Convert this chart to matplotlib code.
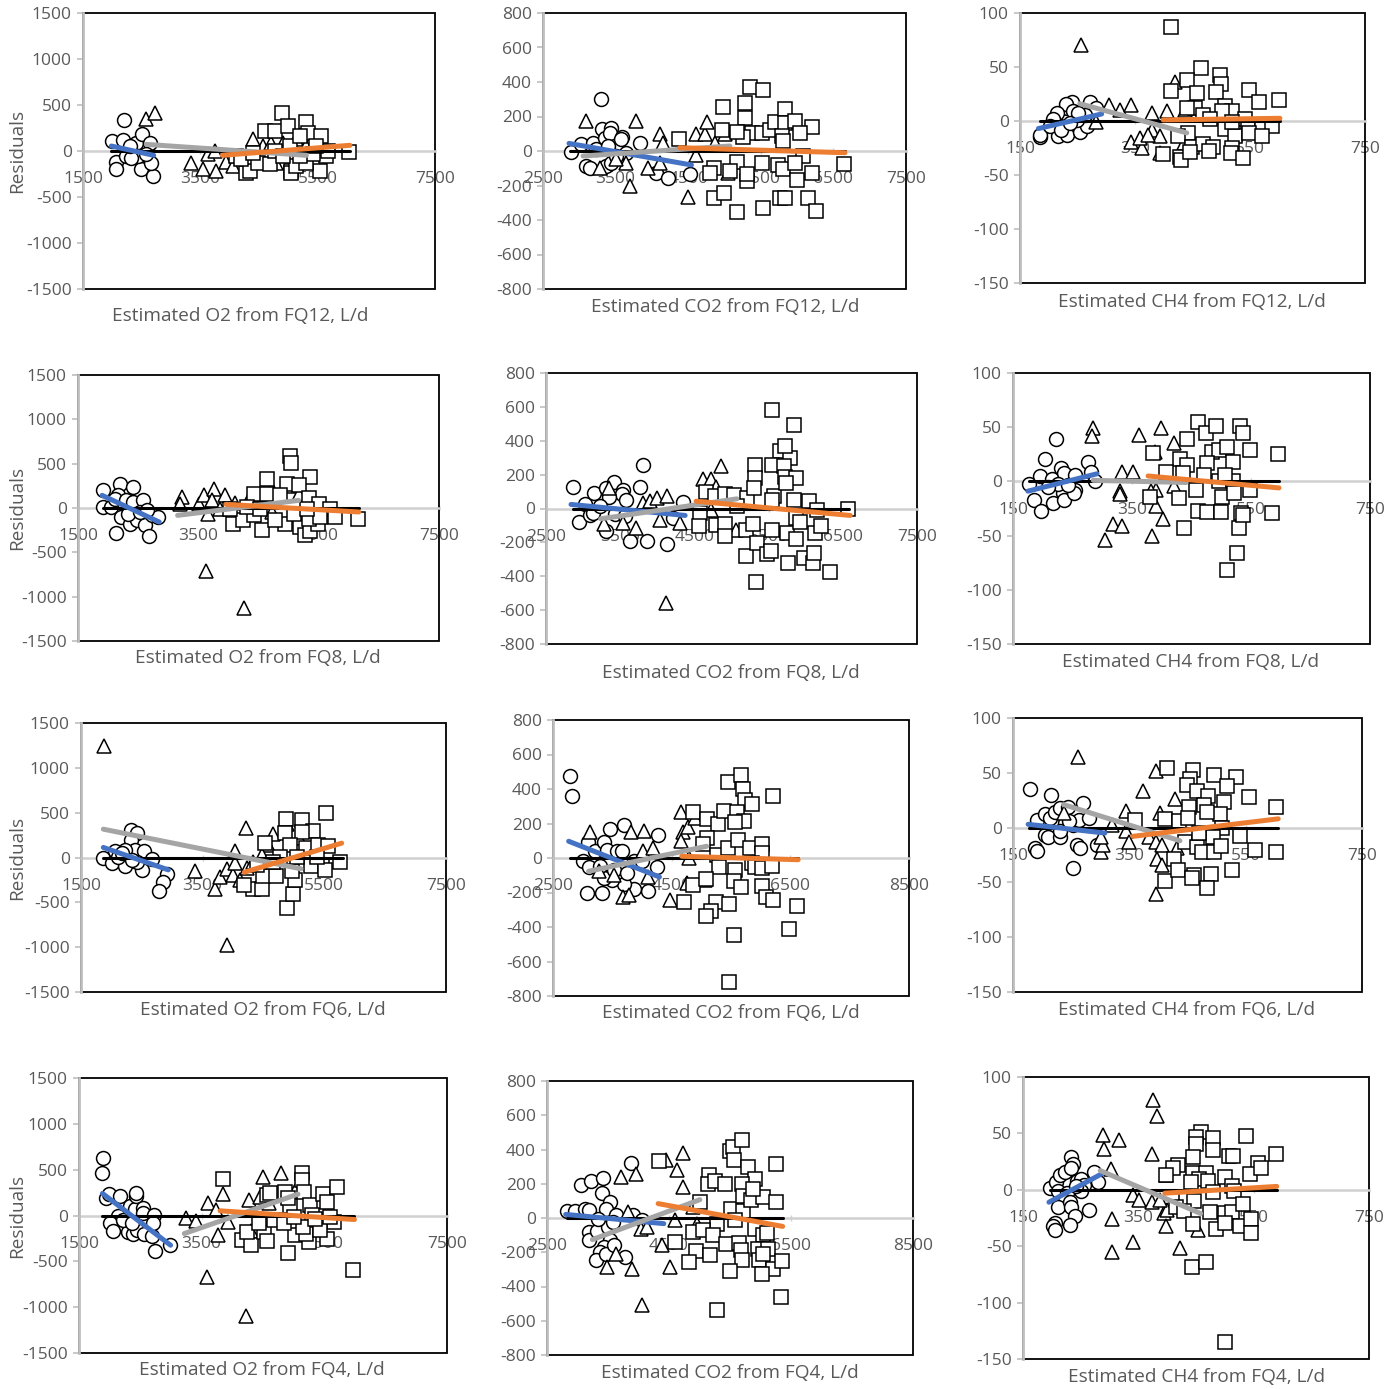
import matplotlib
matplotlib.use("Agg")
import matplotlib.pyplot as plt
from matplotlib.patches import Rectangle

plt.rcParams['font.family'] = ['Open Sans', 'DejaVu Sans']

# ---------------- DATA ----------------
# Each panel: circles, triangles, squares as (x, y) pairs, and trend lines (x0, x1, y0, y1)
# trend line order: circles(blue), triangles(gray), squares(orange), all(black)

o2_fq12_circles = [(2000,109),(2194,337),(2182,120),(2057,-120),(2057,-192),(2228,-54),(2410,83),(2512,181),
                   (2637,91),(2495,-192),(2438,-54),(2694,-272),(2666,-127),(2580,-36),(2325,-72),(2296,54)]
o2_fq12_triangles = [(2580,344),(2723,417),(3348,-127),(3547,-199),(3763,-217),(3632,-36),(3945,-120),(4059,-163),
                     (4172,-54),(4400,127),(4570,54),(4712,91),(4798,-127),(4911,91),(5138,127),(5308,54),(3746,0)]
o2_fq12_squares = [(4884,417),(4599,217),(4769,217),(4997,272),(5308,315),(5337,199),(5564,163),(4286,-235),
                   (4343,-217),(4485,-127),(4684,-145),(5053,-217),(5053,-235),(5536,-217),(5650,-54),(5678,0),
                   (6038,-11),(5138,-163),(5308,-127),(5422,-36),(5024,54),(5195,163),(4116,-54),(4201,-91),
                   (4400,-18),(4770,0),(5195,-54),(5479,54),(4912,-54)]
o2_fq12_lines = [(1983,2705,54,-47),(2580,5308,72,-47),(3877,6050,-47,62),(1983,6050,0,0)]

co2_fq12_circles = [(2881,-6),(3029,39),(3189,48),(3304,303),(3318,126),(3350,77),(3442,135),(3419,106),(3594,83),
                    (3580,68),(3842,48),(3088,-87),(3153,-97),(3373,-87),(3442,-68),(4063,-126),(4224,-155),
                    (4522,-135),(3235,10),(3396,29),(3649,-10),(3511,-29)]
co2_fq12_triangles = [(3088,174),(3778,174),(4109,97),(4155,48),(3695,-203),(3948,-97),(4109,-68),(4499,-265),
                      (4614,-25),(4614,97),(4729,97),(4761,168),(4867,48),(5005,100),(5051,-126),(3649,-68),
                      (3281,-97),(3511,-48)]
co2_fq12_squares = [(4375,68),(4982,257),(5350,373),(5524,354),(5281,276),(5281,193),(5373,106),(5258,83),
                    (5166,110),(4972,120),(5511,102),(5626,122),(5695,168),(5833,241),(5833,164),(5971,174),
                    (6200,139),(6039,106),(5787,87),(5810,58),(4853,-97),(4807,-126),(4853,-274),(4991,-245),
                    (5175,-354),(5166,-64),(5304,-174),(5511,-71),(5741,-83),(5810,-106),(5534,-328),(5764,-270),
                    (5833,-270),(5993,-168),(6154,-274),(6259,-348),(6200,-126),(6085,-29),(5971,-68),(6646,-77),
                    (5074,-116),(5304,-135)]
co2_fq12_lines = [(2858,4545,44,-81),(3052,5074,-29,29),(4384,6659,19,-10),(2868,6659,0,0)]

ch4_fq12_circles = [(185,-15),(185,-13),(216,-14),(232,-13),(228,7),(231,12),(240,18),(230,16),(214,7),(208,2),
                    (202,-5),(222,-8),(254,-10),(266,-5),(271,18),(283,12),(263,6),(249,1),(243,9),(251,7),(237,-2)]
ch4_fq12_triangles = [(256,70),(304,15),(324,10),(343,15),(283,-1),(343,-19),(362,-25),(359,-16),(379,7),(380,-8),
                      (393,-14),(406,9),(419,36),(437,10),(436,-20),(393,-30),(373,-13)]
ch4_fq12_squares = [(412,87),(465,49),(498,43),(499,34),(440,38),(457,26),(490,27),(412,28),(549,29),(566,18),
                    (601,19),(506,14),(518,9),(501,9),(454,12),(440,12),(469,6),(481,2),(542,2),(547,-5),(570,-5),
                    (588,-5),(506,-7),(524,-14),(549,-11),(570,-14),(443,-11),(425,-14),(399,-31),(428,-33),
                    (430,-36),(449,-24),(468,-21),(485,-24),(446,-29),(478,-28),(518,-25),(517,-30),(537,-34),
                    (518,-1)]
ch4_fq12_lines = [(182,292,-7,6.5),(254,440,16,-11),(399,602,1,2.5),(184,602,0,0)]

o2_fq8_circles = [(1917,207),(1917,11),(2056,11),(2194,267),(2406,237),(2167,143),(2111,105),(2306,86),(2417,68),
                  (2583,94),(2222,-101),(2361,-177),(2483,-132),(2611,-188),(2678,-320),(2139,-278),(2722,-83),
                  (2833,-101),(2333,-64),(2528,-45),(2639,-26)]
o2_fq8_triangles = [(3222,124),(3194,41),(3511,49),(3594,143),(3761,218),(3733,86),(3944,143),(3667,-64),
                    (3628,-714),(4261,-1124),(3861,-8),(4111,56),(4361,124),(4500,143),(4722,218),(5028,244),
                    (5167,162),(4722,-45),(4639,86),(4417,11)]
o2_fq8_squares = [(5028,586),(5044,511),(5361,350),(4639,323),(4972,274),(5167,256),(4417,162),(4639,162),
                  (4861,143),(5333,117),(5500,49),(5694,-8),(5778,-101),(6150,-128),(4083,-177),(4250,-139),
                  (4556,-244),(4944,-177),(5194,-214),(5267,-308),(5361,-259),(5489,-177),(4417,-83),(4778,-139),
                  (5083,-64),(5333,-120),(5528,-101),(4028,-8),(4306,11),(4528,-8),(5306,-8)]
o2_fq8_lines = [(1900,2850,143,-158),(3156,5167,-83,86),(3961,6167,41,-45),(1917,6167,0,0)]

co2_fq8_circles = [(2869,126),(3026,24),(3147,89),(3305,122),(3417,155),(3543,112),(3520,83),(3350,69),(3579,53),
                   (3768,126),(3804,258),(2950,-79),(3093,-39),(3138,-26),(3305,-134),(3633,-193),(3858,-193),
                   (4128,-209),(4217,-55),(4352,37),(3431,-35),(3566,-45),(3228,14)]
co2_fq8_triangles = [(3350,122),(3287,-94),(3543,-85),(3714,-114),(3813,33),(3903,47),(4002,63),(4128,73),
                     (4038,-65),(4307,-85),(4114,-557),(4622,177),(4721,177),(4789,128),(4857,250),(4721,-6),
                     (5063,-128)]
co2_fq8_squares = [(4658,98),(4779,73),(4914,83),(5036,77),(5207,63),(5319,254),(5319,181),(5297,122),(5544,584),
                   (5836,492),(5647,339),(5782,299),(5544,254),(5701,250),(5724,187),(5872,181),(5570,73),
                   (5552,49),(5836,53),(6039,43),(6152,-6),(6564,0),(4577,-26),(4564,-104),(4793,-100),(4914,-94),
                   (4914,-163),(5189,-128),(5189,-281),(5292,-94),(5346,-203),(5333,-435),(5472,-266),(5535,-252),
                   (5548,-124),(5750,-144),(5876,-183),(5876,-55),(5917,-81),(5764,-321),(5975,-295),(6099,-321),
                   (6108,-262),(6130,-144),(6206,-104),(6326,-372),(5072,14),(5737,152),(5724,368)]
co2_fq8_lines = [(2837,4375,24,-41),(3237,5072,-61,57),(4523,6600,43,-41),(2860,6578,0,0)]

ch4_fq8_circles = [(177,-2),(195,5),(203,21),(222,39),(186,-17),(197,-27),(217,-20),(216,2),(231,12),(235,8),
                   (234,-11),(235,-17),(254,6),(254,-8),(252,-11),(276,18),(281,9),(288,0),(226,-2),(242,-3),(209,-5)]
ch4_fq8_triangles = [(285,49),(283,42),(304,-54),(318,-39),(334,-41),(330,-9),(330,-12),(333,9),(351,9),(361,43),
                     (398,49),(420,35),(384,-50),(388,27),(391,-8),(402,-35),(390,-23),(382,-9),(420,-4)]
ch4_fq8_squares = [(461,55),(475,45),(492,51),(531,51),(537,45),(548,29),(485,27),(497,29),(509,32),(442,39),
                   (430,21),(442,15),(476,17),(519,18),(385,26),(407,9),(436,8),(471,6),(497,0),(520,0),(506,6),
                   (596,25),(381,-14),(429,-15),(457,-8),(502,-14),(522,-11),(548,-8),(461,-27),(476,-28),
                   (500,-28),(534,-29),(530,-43),(526,-66),(510,-82),(437,-43),(585,-29),(537,-31)]
ch4_fq8_lines = [(175,291,-9,7),(285,441,1,-1),(377,597,5,-6),(177,597,0,0)]

o2_fq6_circles = [(1867,0),(2004,-63),(2223,-100),(2316,309),(2415,271),(2316,197),(2387,85),(2223,85),(2059,67),
                  (2536,74),(2662,-15),(2497,-138),(2415,-52),(2333,-26),(2908,-186),(2842,-268),(2788,-372),
                  (2114,11),(2168,48)]
o2_fq6_triangles = [(1884,1238),(3374,-149),(3703,-349),(3894,-974),(3785,-212),(3894,-126),(4004,-193),(4031,67),
                    (4031,-63),(4113,-249),(4212,327),(4223,-112),(4579,141),(4661,260),(4891,372),(5083,216),
                    (4469,30),(4332,-45)]
o2_fq6_squares = [(4332,-349),(4469,-349),(4179,-305),(4497,-201),(4705,-201),(4891,-558),(4979,-409),(5017,-249),
                  (4962,-149),(4524,160),(4864,431),(5127,413),(5319,297),(5127,282),(4853,271),(4935,141),
                  (5198,104),(5401,141),(5566,123),(5522,494),(5757,-45),(5467,-82),(5286,-100),(5506,-138),
                  (4770,11),(5045,11),(4661,-45),(4387,-82),(5374,11)]
o2_fq6_lines = [(1867,2935,112,-138),(1867,5116,316,-126),(4185,5785,-164,160),(1867,5812,0,0)]

co2_fq6_circles = [(2780,477),(2820,361),(3089,93),(3212,39),(3363,93),(3408,48),(3453,168),(3577,39),(3661,39),
                   (3700,193),(3857,-19),(3997,-15),(4277,131),(4260,-52),(4109,-189),(3857,-180),(3700,-149),
                   (3492,-126),(3352,-116),(3324,-203),(3072,-203),(3005,-19),(3100,-52),(3296,-48),(3520,-68),
                   (3745,-87)]
co2_fq6_triangles = [(3117,151),(3812,151),(4042,158),(4025,43),(4177,58),(4109,-112),(3672,-228),(3773,-216),
                     (3268,-73),(3520,-97),(4474,-245),(4653,267),(4698,149),(4782,178),(4894,232),(4653,97),
                     (4799,0),(4754,-145),(5062,-126)]
co2_fq6_squares = [(4855,265),(5102,228),(5287,197),(5386,270),(5442,439),(5668,483),(5696,400),(5735,338),
                   (5847,313),(5595,265),(5719,213),(5567,209),(6212,361),(5102,116),(5022,81),(5258,15),(5455,58),
                   (5623,106),(5819,58),(6015,81),(6015,29),(5302,-52),(5567,-71),(5847,-29),(5903,-52),(6015,-58),
                   (6195,-44),(4709,-255),(4855,-155),(5074,-120),(5550,-135),(5668,-170),(6015,-164),(6088,-228),
                   (6200,-245),(5247,-255),(5158,-309),(5080,-338),(5466,-267),(5550,-444),(5472,-719),(6476,-410),
                   (6616,-280)]
co2_fq6_lines = [(2764,4294,97,-110),(3100,5090,-77,68),(4670,6632,10,-10),(2780,6632,0,0)]

ch4_fq6_circles = [(179,35),(215,30),(192,7),(205,12),(213,9),(223,14),(230,18),(244,19),(240,4),(254,2),(263,7),
                   (271,22),(280,9),(205,-7),(211,-9),(231,-9),(230,-3),(188,-19),(192,-21),(260,-16),(266,-19),
                   (254,-37),(294,-16),(246,6)]
ch4_fq6_triangles = [(262,64),(237,13),(320,2),(344,15),(345,-3),(349,-13),(373,33),(396,52),(403,13),(429,26),
                     (383,-9),(396,-13),(406,-16),(432,-19),(397,-29),(407,-34),(396,-61),(301,-22),(304,-16),
                     (302,-9)]
ch4_fq6_squares = [(415,54),(460,53),(455,44),(449,39),(495,48),(533,46),(518,38),(556,28),(467,33),(486,29),
                   (513,23),(453,19),(478,21),(506,12),(484,14),(411,8),(436,6),(451,9),(360,7),(509,0),(541,-8),
                   (603,19),(603,-22),(566,-20),(446,-13),(467,-18),(493,-9),(475,-22),(496,-22),(507,-17),
                   (426,-29),(411,-49),(433,-39),(462,-43),(458,-46),(491,-42),(484,-55),(526,-39),(470,-5)]
ch4_fq6_lines = [(176,308,3,-5),(237,437,21,-12),(356,606,-8,8),(178,606,0,0)]

o2_fq4_circles = [(1892,631),(1882,459),(1936,186),(1991,230),(2165,211),(2328,102),(2410,66),(2437,211),
                  (2427,248),(2536,84),(2546,29),(2721,4),(2138,-7),(2001,-80),(2056,-168),(2301,-179),(2383,-197),
                  (2448,-160),(2557,-197),(2683,-226),(2710,-80),(2737,-386),(2982,-324),(2219,-51),(2356,-87)]
o2_fq4_triangles = [(3244,-26),(3408,-62),(3609,139),(3582,-671),(3773,-215),(3854,233),(3936,-69),(3734,58),
                    (4225,-1097),(4279,168),(4301,-168),(4508,416),(4443,204),(4590,131),(4792,467),(5026,270)]
o2_fq4_squares = [(3844,397),(4154,-270),(4301,-324),(4246,-179),(4519,-179),(4563,-277),(4427,-87),(4563,222),
                  (4617,241),(4672,-51),(4906,-408),(4862,259),(5026,-215),(4944,102),(4906,186),(5135,459),
                  (5135,386),(5162,259),(5260,113),(5299,4),(5479,233),(5544,150),(5708,313),(5653,-69),
                  (5544,-251),(5244,-288),(5206,-197),(5151,-124),(5435,-160),(5969,-598),(4835,-80),(5353,-33),
                  (5599,-15),(4999,-15)]
o2_fq4_lines = [(1882,2993,241,-324),(3217,5070,-197,233),(3800,5991,51,-44),(1882,5980,0,0)]

co2_fq4_circles = [(2828,41),(2954,41),(3118,51),(3189,45),(3053,191),(3217,216),(3419,235),(3403,148),(3540,93),
                   (3474,54),(3638,19),(3873,321),(3912,16),(4065,-10),(3189,-82),(3189,-130),(3326,-76),(3529,-130),
                   (3430,-169),(3375,-198),(3310,-247),(3474,-208),(3594,-159),(3786,-227),(3496,-52),(3583,-23),
                   (3337,-4)]
co2_fq4_triangles = [(3709,239),(3956,255),(3830,35),(4049,-62),(4147,-52),(3490,-286),(3901,-295),(4065,-509),
                     (3638,-208),(4459,336),(4634,282),(4733,379),(4722,181),(4388,-159),(4514,-286),(4596,-14),
                     (4962,-37),(4897,64)]
co2_fq4_squares = [(4339,332),(5006,93),(5159,249),(5143,196),(5252,216),(5417,196),(5499,391),(5554,414),
                   (5690,453),(5564,340),(5800,297),(5909,229),(5690,200),(5510,54),(5718,41),(5718,126),(5843,107),
                   (6035,122),(6254,313),(6248,93),(5882,171),(5280,-33),(4897,-82),(5050,-72),(5225,-101),
                   (4941,-192),(4831,-257),(5170,-218),(5427,-154),(5652,-146),(5674,-185),(5690,-243),(5909,-62),
                   (6035,-101),(6100,-87),(5964,-179),(5975,-243),(6128,-179),(6046,-208),(6210,-295),(6347,-253),
                   (6018,-329),(5499,-309),(5280,-539),(6336,-461),(5581,-10),(4596,-140)]
co2_fq4_lines = [(2806,4415,21,-33),(3244,5006,-126,107),(4322,6363,84,-49),(2828,6363,0,0)]

ch4_fq4_circles = [(197,2),(208,7),(214,13),(222,16),(234,29),(237,23),(234,19),(243,8),(251,10),(255,4),(251,-1),
                   (273,16),(280,7),(211,-1),(226,-3),(222,-10),(211,-15),(231,-11),(234,-15),(240,-23),(264,-18),
                   (232,-31),(205,-29),(202,-32),(205,-36),(242,3)]
ch4_fq4_triangles = [(288,49),(290,36),(316,44),(303,18),(305,-26),(305,-55),(340,-46),(340,-5),(352,-9),(373,-11),
                     (375,80),(383,65),(373,32),(398,13),(395,-21),(399,-18),(398,-32),(422,-52),(453,-36),(387,-9)]
ch4_fq4_squares = [(459,51),(450,47),(479,46),(536,48),(450,41),(479,35),(445,29),(508,30),(514,30),(557,24),
                   (588,32),(419,22),(410,19),(398,13),(445,15),(468,15),(500,11),(543,14),(562,19),(455,10),
                   (471,8),(442,7),(513,3),(479,-2),(516,-1),(432,-9),(447,-10),(415,-15),(430,-19),(474,-20),
                   (501,-21),(513,-20),(531,-13),(445,-30),(484,-35),(500,-29),(527,-32),(546,-26),(546,-38),
                   (443,-68),(467,-64),(501,-135)]
ch4_fq4_lines = [(195,286,-11,14),(284,458,17,-21),(396,590,-3,3),(197,590,0,0)]

x_titles = ["Estimated O2 from FQ12, L/d", "Estimated CO2 from FQ12, L/d", "Estimated CH4 from FQ12, L/d",
            "Estimated O2 from FQ8, L/d", "Estimated CO2 from FQ8, L/d", "Estimated CH4 from FQ8, L/d",
            "Estimated O2 from FQ6, L/d", "Estimated CO2 from FQ6, L/d", "Estimated CH4 from FQ6, L/d",
            "Estimated O2 from FQ4, L/d", "Estimated CO2 from FQ4, L/d", "Estimated CH4 from FQ4, L/d"]
y_title = "Residuals"

o2_xticks = [1500, 3500, 5500, 7500]
o2_yticks = [-1500, -1000, -500, 0, 500, 1000, 1500]
co2_xticks_a = [2500, 3500, 4500, 5500, 6500, 7500]
co2_xticks_b = [2500, 4500, 6500, 8500]
co2_yticks = [-800, -600, -400, -200, 0, 200, 400, 600, 800]
ch4_xticks = [150, 350, 550, 750]
ch4_yticks = [-150, -100, -50, 0, 50, 100]

# ---------------- LAYOUT ----------------
W, H = 1398, 1389
fig = plt.figure(figsize=(W / 100, H / 100), dpi=100)

# (left, top, right, bottom) of each plot area in pixels
boxes = [(83, 13, 435, 289), (543, 13, 906, 289), (1020, 13, 1365, 283),
         (78, 375, 439, 641), (546, 373, 917, 644), (1013, 373, 1370, 644),
         (81, 723, 446, 992), (553, 720, 909, 996), (1013, 718, 1362, 992),
         (79, 1078, 447, 1353), (547, 1081, 913, 1355), (1023, 1077, 1369, 1359)]
title_pos = [(240, 316), (725, 307), (1192, 302),
             (258, 658), (731, 673), (1191, 662),
             (263, 1010), (731, 1013), (1187, 1010),
             (262, 1370), (730, 1373), (1197, 1377)]

panels = [
    (o2_fq12_circles, o2_fq12_triangles, o2_fq12_squares, o2_fq12_lines, o2_xticks, o2_yticks),
    (co2_fq12_circles, co2_fq12_triangles, co2_fq12_squares, co2_fq12_lines, co2_xticks_a, co2_yticks),
    (ch4_fq12_circles, ch4_fq12_triangles, ch4_fq12_squares, ch4_fq12_lines, ch4_xticks, ch4_yticks),
    (o2_fq8_circles, o2_fq8_triangles, o2_fq8_squares, o2_fq8_lines, o2_xticks, o2_yticks),
    (co2_fq8_circles, co2_fq8_triangles, co2_fq8_squares, co2_fq8_lines, co2_xticks_a, co2_yticks),
    (ch4_fq8_circles, ch4_fq8_triangles, ch4_fq8_squares, ch4_fq8_lines, ch4_xticks, ch4_yticks),
    (o2_fq6_circles, o2_fq6_triangles, o2_fq6_squares, o2_fq6_lines, o2_xticks, o2_yticks),
    (co2_fq6_circles, co2_fq6_triangles, co2_fq6_squares, co2_fq6_lines, co2_xticks_b, co2_yticks),
    (ch4_fq6_circles, ch4_fq6_triangles, ch4_fq6_squares, ch4_fq6_lines, ch4_xticks, ch4_yticks),
    (o2_fq4_circles, o2_fq4_triangles, o2_fq4_squares, o2_fq4_lines, o2_xticks, o2_yticks),
    (co2_fq4_circles, co2_fq4_triangles, co2_fq4_squares, co2_fq4_lines, co2_xticks_b, co2_yticks),
    (ch4_fq4_circles, ch4_fq4_triangles, ch4_fq4_squares, ch4_fq4_lines, ch4_xticks, ch4_yticks),
]

TXT = '#595959'
AXG = '#BFBFBF'
line_colors = ['#4472C4', '#A5A5A5', '#ED7D31', '#000000']
line_widths = [3.6, 3.6, 3.6, 2.2]
line_z = [5, 5, 5, 4]
markers = ['o', '^', 's']
TICK_FS = 12.5
TITLE_FS = 13.7

for i, (circ, tri, sq, lines, xt, yt) in enumerate(panels):
    l, t, r, b = boxes[i]
    ax = fig.add_axes([l / W, 1 - b / H, (r - l) / W, (b - t) / H])
    ax.set_xlim(xt[0], xt[-1])
    ax.set_ylim(yt[0], yt[-1])

    for pts, mk in zip((circ, tri, sq), markers):
        xs = [p[0] for p in pts]
        ys = [p[1] for p in pts]
        ax.plot(xs, ys, linestyle='none', marker=mk, markersize=10 if mk != '^' else 10.5,
                markerfacecolor='white', markeredgecolor='black', markeredgewidth=1.1,
                zorder=3, clip_on=False)
    for (x0, x1, y0, y1), c, lw, z in zip(lines, line_colors, line_widths, line_z):
        ax.plot([x0, x1], [y0, y1], color=c, lw=lw, solid_capstyle='round', zorder=z)

    # frame
    ax.add_patch(Rectangle((0, 0), 1, 1, transform=ax.transAxes, fill=False,
                           edgecolor='black', lw=1.3, zorder=2.4, clip_on=False))
    for s in ('top', 'right'):
        ax.spines[s].set_visible(False)
    ax.spines['left'].set_color(AXG)
    ax.spines['left'].set_linewidth(2.0)
    ax.spines['left'].set_zorder(2.6)
    ax.spines['bottom'].set_position(('data', 0))
    ax.spines['bottom'].set_color('#D0D0D0')
    ax.spines['bottom'].set_linewidth(1.8)

    ax.set_xticks(xt)
    ax.set_yticks(yt)
    ax.set_xticklabels([str(v) for v in xt])
    ax.set_yticklabels([str(v) for v in yt])
    ax.tick_params(axis='y', direction='out', length=4, width=1.2, color=AXG,
                   labelcolor=TXT, labelsize=TICK_FS, pad=4)
    ax.tick_params(axis='x', direction='inout', length=5, width=1.0, color='#D0D0D0',
                   labelcolor=TXT, labelsize=TICK_FS, pad=12)
    ax.set_facecolor('white')

    tx, ty = title_pos[i]
    fig.text(tx / W, 1 - ty / H, x_titles[i], ha='center', va='center',
             fontsize=TITLE_FS, color=TXT)
    if i % 3 == 0:
        yc = (t + b) / 2
        fig.text(17 / W, 1 - yc / H, y_title, rotation=90, ha='center', va='center',
                 fontsize=TITLE_FS, color=TXT)

fig.savefig('out.png', dpi=100, facecolor='white')
